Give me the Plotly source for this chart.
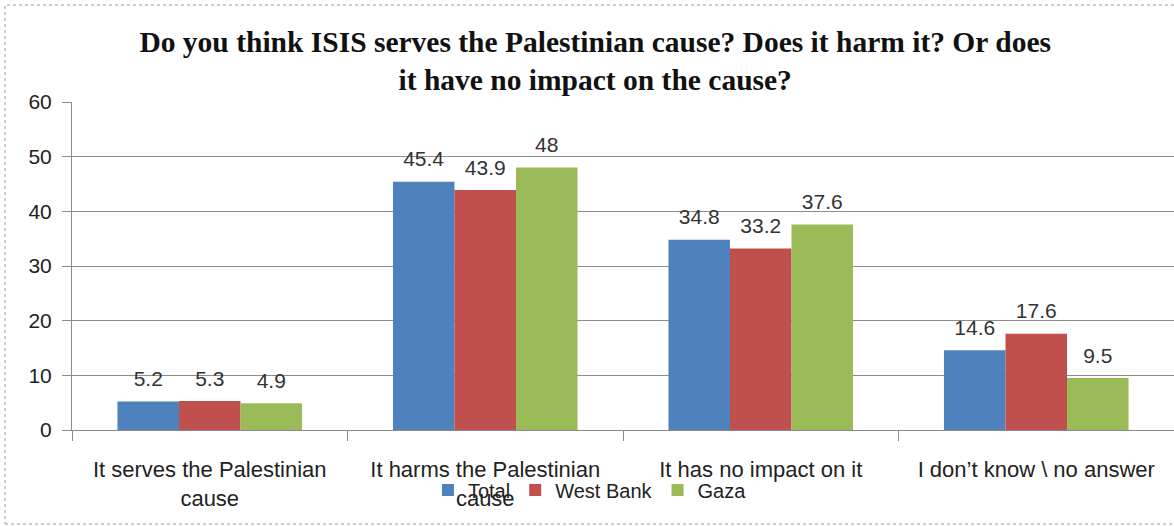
import plotly.graph_objects as go

categories = ["It serves the Palestinian<br>cause", "It harms the Palestinian<br>cause",
              "It has no impact on it", "I don’t know \\ no answer"]
total = [5.2, 45.4, 34.8, 14.6]
west_bank = [5.3, 43.9, 33.2, 17.6]
gaza = [4.9, 48, 37.6, 9.5]
series_names = ["Total", "West Bank", "Gaza"]
colors = ["#4F81BD", "#C0504D", "#9BBB59"]

W, H = 1174, 526
L, T, B = 72, 102, 96

fig = go.Figure()
for name, vals, col in zip(series_names, [total, west_bank, gaza], colors):
    fig.add_trace(go.Bar(
        name=name, x=categories, y=vals, marker_color=col,
        marker_line_width=0,
        text=[f"<span style='font-size:21px'>{v:g}</span><br> " for v in vals],
        textposition="outside",
        textfont=dict(size=8, color="#333333", family="Liberation Sans"),
        cliponaxis=False,
    ))

fig.update_layout(
    width=W, height=H,
    margin=dict(l=L, r=0, t=T, b=B, autoexpand=False),
    paper_bgcolor="white", plot_bgcolor="white",
    barmode="group", bargap=0.33, bargroupgap=0,
    font=dict(family="Liberation Sans", size=21, color="#222222"),
    title=dict(
        text="<b>Do you think ISIS serves the Palestinian cause? Does it harm it? Or does<br>it have no impact on the cause?</b>",
        x=0.507, xanchor="center", y=0.902, yanchor="top",
        font=dict(family="Liberation Serif", size=29.5, color="#111111"),
    ),
    legend=dict(orientation="h", x=0.47, xanchor="center", y=(430 - 490) / 328, yanchor="middle",
                font=dict(size=20), bgcolor="rgba(0,0,0,0)"),
    showlegend=True,
)
fig.update_yaxes(range=[0, 60], dtick=10, showgrid=True, gridcolor="#8c8c8c", gridwidth=1,
                 showline=True, linecolor="#8c8c8c", ticks="outside", ticklen=9,
                 tickcolor="#8c8c8c", tickfont=dict(size=21), zeroline=False,
                 ticklabelstandoff=6, automargin=False)
fig.update_xaxes(showline=True, linecolor="#8c8c8c", ticks="outside", ticklen=10,
                 tickcolor="#8c8c8c", tickson="boundaries", tickfont=dict(size=22),
                 ticklabelstandoff=20, automargin=False)

fig.add_shape(type="rect", xref="paper", yref="paper",
              x0=(5 - L) / 1102, x1=(1200 - L) / 1102,
              y0=(430 - 524) / 328, y1=(430 - 5) / 328,
              line=dict(color="#9a9a9a", width=1, dash="dot"), layer="below")

fig.write_html("out.html", config={"displayModeBar": False},
               post_script="document.body.style.margin='0px';")
